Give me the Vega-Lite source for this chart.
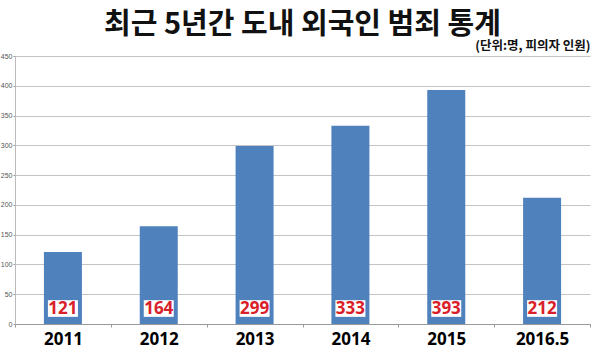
{
  "$schema": "https://vega.github.io/schema/vega-lite/v6.json",
  "autosize": "none",
  "width": 575,
  "height": 268,
  "padding": {"left": 15, "top": 56, "right": 10, "bottom": 30},
  "background": "white",
  "title": {"text": "최근 5년간 도내 외국인 범죄 통계", "font": "Noto Sans CJK KR", "fontSize": 29, "fontWeight": "bold", "color": "#111", "anchor": "middle", "offset": -1},
  "data": {"values": [
    {"year": "2011", "count": 121},
    {"year": "2012", "count": 164},
    {"year": "2013", "count": 299},
    {"year": "2014", "count": 333},
    {"year": "2015", "count": 393},
    {"year": "2016.5", "count": 212}
  ]},
  "config": {"view": {"stroke": null},
    "axisY": {"labelOverlap": false, "labelFlush": false, "labelFontSize": 7, "labelColor": "#555", "labelPadding": 1, "tickSize": 2, "tickColor": "#999", "domainColor": "#bbb", "gridColor": "#c4c4c4", "grid": true,
      "titleAngle": 0, "titleAlign": "right", "titleBaseline": "bottom", "titleX": 575, "titleY": -4, "titleFont": "Noto Sans CJK KR", "titleFontSize": 12.5, "titleFontWeight": "bold", "titleColor": "#111"}},
  "encoding": {
    "x": {"field": "year", "type": "nominal", "sort": null,
      "scale": {"paddingInner": 0, "paddingOuter": 0},
      "axis": {"title": null, "labelAngle": 0, "labelFont": "Noto Sans", "labelFontSize": 17, "labelFontWeight": "bold", "labelColor": "#000", "labelPadding": 4,
        "domainColor": "#999", "tickColor": "#999", "tickSize": 3, "tickBand": "extent", "grid": false}}
  },
  "layer": [
    {"mark": {"type": "bar", "size": 38, "color": "#4f81bd"},
     "encoding": {"y": {"field": "count", "type": "quantitative",
       "scale": {"domain": [0, 450], "nice": false},
       "axis": {"values": [0,50,100,150,200,250,300,350,400,450], "title": "(단위:명, 피의자 인원)"}}}},
    {"mark": {"type": "bar", "size": 30, "color": "white"},
     "encoding": {"y": {"datum": 40, "type": "quantitative", "axis": {"values": [0,50,100,150,200,250,300,350,400,450], "title": "(단위:명, 피의자 인원)"}}, "y2": {"datum": 12}}},
    {"mark": {"type": "text", "color": "#d9202a", "fontSize": 17, "fontWeight": "bold", "font": "Noto Sans", "baseline": "middle"},
     "encoding": {"y": {"datum": 25, "type": "quantitative", "axis": {"values": [0,50,100,150,200,250,300,350,400,450], "title": "(단위:명, 피의자 인원)"}}, "text": {"field": "count", "type": "quantitative"}}}
  ]
}
